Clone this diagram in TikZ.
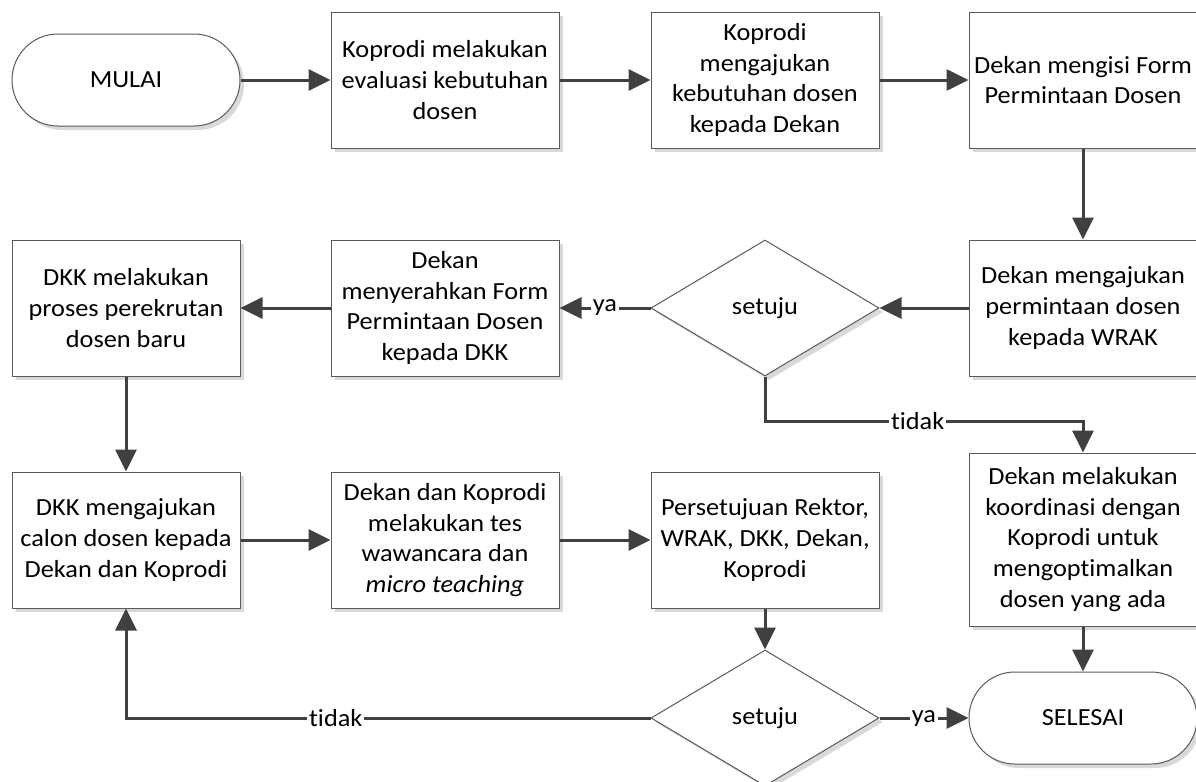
\documentclass[tikz,border=0pt]{standalone}
\usepackage{fontspec}
\setmainfont{Carlito}[FakeStretch=1.07,Ligatures=NoCommon]
\usetikzlibrary{arrows.meta,shapes.geometric,shadows}
\definecolor{linegray}{HTML}{404040}
\definecolor{edgegray}{HTML}{5A5A5A}

\begin{document}
\begin{tikzpicture}[x=0.5pt,y=-0.5pt,
  font=\fontsize{12.3}{15.3}\selectfont,
  boxshadow/.style={drop shadow={shadow xshift=2pt,shadow yshift=-2pt,fill=black!15,opacity=1}},
  proc/.style={draw=edgegray,line width=0.5pt,fill=white,boxshadow,align=center,
    minimum width=114pt,minimum height=68pt,inner sep=2pt},
  term/.style={proc,rounded corners=23pt,minimum height=46pt},
  cond/.style={diamond,draw=edgegray,line width=0.5pt,fill=white,boxshadow,
    minimum width=114pt,minimum height=68pt,inner sep=0pt},
  flow/.style={draw=linegray,line width=1.5pt,-{Triangle[length=11pt,width=10.5pt]}},
  lbl/.style={fill=white,inner sep=1pt}]
\useasboundingbox (0,0) rectangle (1196,782);

% top row
\node[term] (mulai) at (126,80) {MULAI};
\node[proc] (evaluasi) at (445,80) {Koprodi melakukan\\evaluasi kebutuhan\\dosen};
\node[proc] (ajukan) at (765,80) {Koprodi\\mengajukan\\kebutuhan dosen\\kepada Dekan};
\node[proc] (isiform) at (1083,80) {Dekan mengisi Form\\Permintaan Dosen};

% second row
\node[proc] (wrak) at (1083,308) {Dekan mengajukan\\permintaan dosen\\kepada WRAK};
\node[cond] (setuju1) at (765,308) {setuju};
\node[proc] (serahkan) at (445,308) {Dekan\\menyerahkan Form\\Permintaan Dosen\\kepada DKK};
\node[proc] (rekrut) at (126,308) {DKK melakukan\\proses perekrutan\\dosen baru};

% third row
\node[proc] (calon) at (126,540) {DKK mengajukan\\calon dosen kepada\\Dekan dan Koprodi};
\node[proc] (tes) at (445,540) {Dekan dan Koprodi\\melakukan tes\\wawancara dan\\\textit{micro teaching}};
\node[proc] (rektor) at (765,540) {Persetujuan Rektor,\\WRAK, DKK, Dekan,\\Koprodi};
\node[proc,minimum height=86.5pt] (koordinasi) at (1083,539.5) {Dekan melakukan\\koordinasi dengan\\Koprodi untuk\\mengoptimalkan\\dosen yang ada};

% bottom row
\node[cond] (setuju2) at (765,718) {setuju};
\node[term] (selesai) at (1083,718) {SELESAI};

\draw[flow] (mulai) -- (evaluasi);
\draw[flow] (evaluasi) -- (ajukan);
\draw[flow] (ajukan) -- (isiform);
\draw[flow] (isiform) -- (wrak);
\draw[flow] (wrak) -- (setuju1);
\draw[flow] (setuju1) -- node[lbl] {ya} (serahkan);
\draw[flow] (serahkan) -- (rekrut);
\draw[flow] (setuju1.south) -- ++(0,45) -| node[lbl,pos=0.24] {tidak} (koordinasi.north);
\draw[flow] (rekrut) -- (calon);
\draw[flow] (calon) -- (tes);
\draw[flow] (tes) -- (rektor);
\draw[flow] (rektor) -- (setuju2);
\draw[flow] (koordinasi) -- (selesai);
\draw[flow] (setuju2) -- node[lbl] {ya} (selesai);
\draw[flow] (setuju2.west) -| node[lbl,pos=0.3] {tidak} (calon.south);
\end{tikzpicture}
\end{document}
